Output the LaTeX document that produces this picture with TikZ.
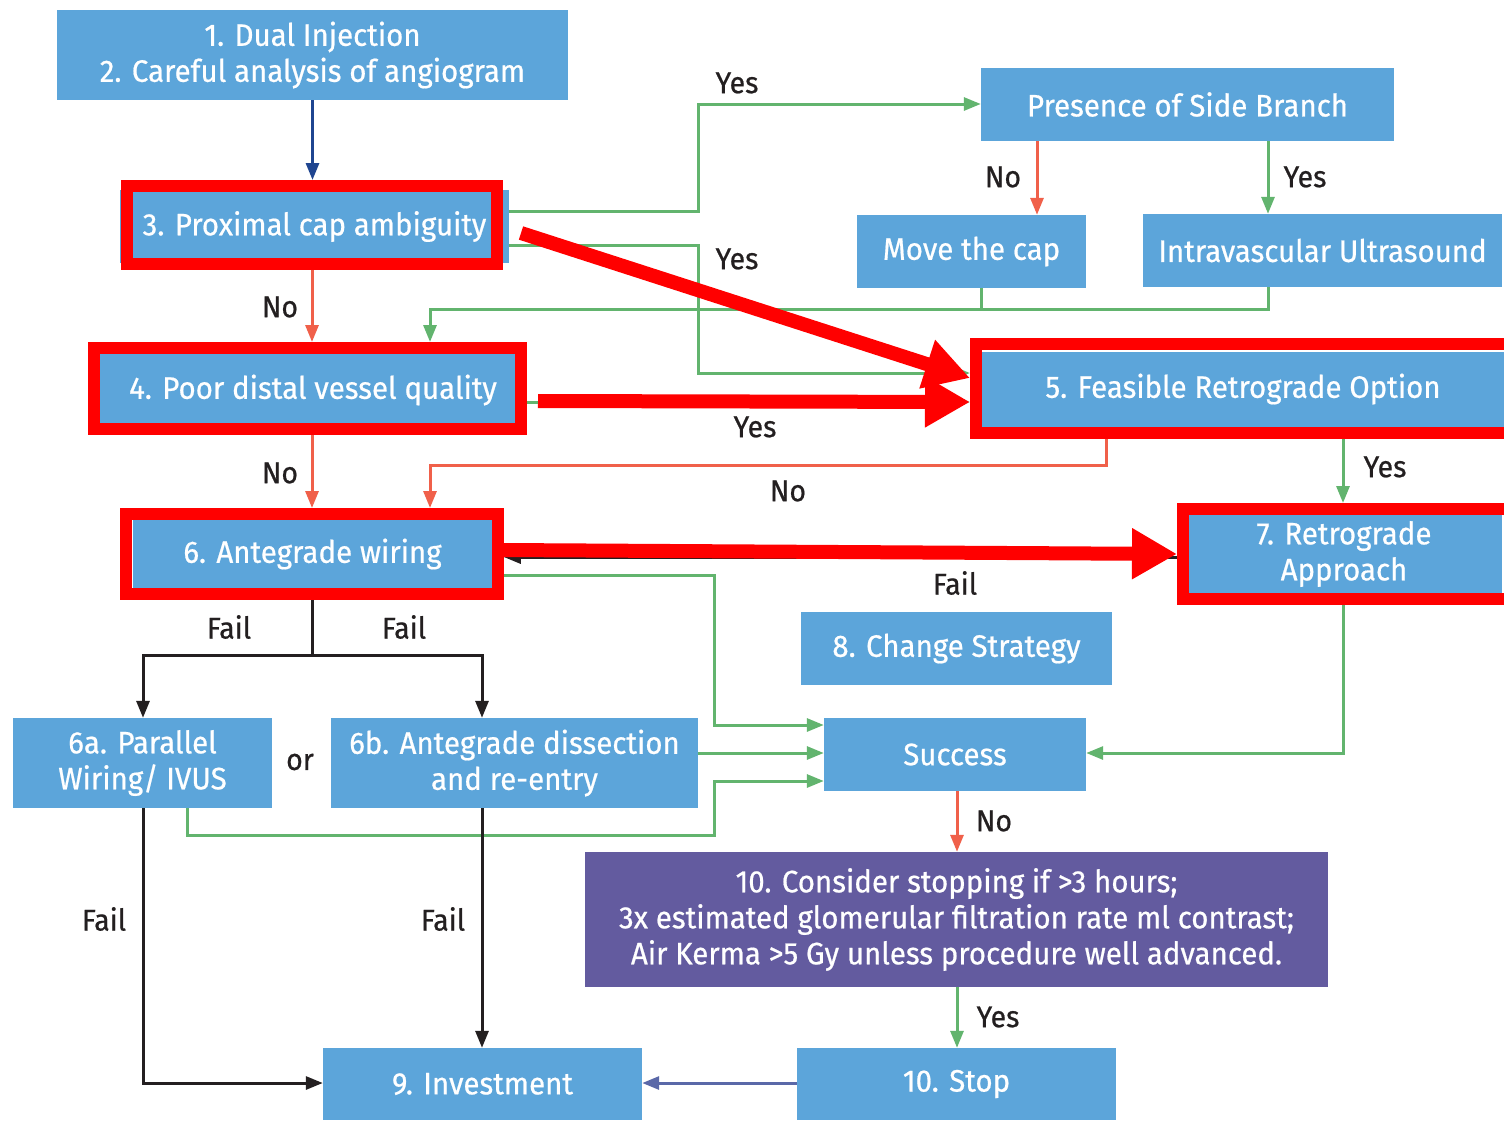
\documentclass[tikz,border=0pt]{standalone}
\usepackage{fontspec}
\setmainfont{Fira Sans}[FakeStretch=0.95,FakeBold=0.6]
\usetikzlibrary{arrows.meta,calc}
\definecolor{boxblue}{HTML}{5CA5DA}
\definecolor{grn}{HTML}{62B46E}
\definecolor{org}{HTML}{F0604A}
\definecolor{dkblue}{HTML}{1F4590}
\definecolor{purp}{HTML}{635B9F}
\definecolor{slate}{HTML}{5A68A8}
\definecolor{labelc}{HTML}{231F20}
\definecolor{hired}{HTML}{FF0000}
\begin{document}
\begin{tikzpicture}[x=1pt,y=-1pt,
  box/.style={fill=boxblue,text=white,inner sep=0pt,align=center,font=\fontsize{31}{36}\selectfont},
  lbl/.style={text=labelc,inner sep=0pt,font=\fontsize{30}{36}\selectfont},
  redframe/.style={draw=hired,line width=12pt,inner sep=0pt},
  con/.style={line width=3pt,-{Triangle[length=17pt,width=13pt]}},
  plain/.style={line width=3pt},
  gline/.style={con,draw=grn,color=grn},
  oline/.style={con,draw=org,color=org},
  bline/.style={con,draw=labelc,color=labelc},
  bigarrow/.style={draw=hired,color=hired,line width=14pt,-{Triangle[length=45pt,width=48pt]}}
]
\useasboundingbox (0,0) rectangle (1504,1120);
\fill[white] (0,0) rectangle (1504,1120);

% boxes
\node[box,minimum width=511pt,minimum height=90pt] (b1) at (312.5,55) {1. Dual Injection\\2. Careful analysis of angiogram};
\node[box,minimum width=389pt,minimum height=73pt] (b3) at (314.5,226.5) {3. Proximal cap ambiguity};
\node[box,minimum width=428pt,minimum height=76pt] (b4) at (313,390) {4. Poor distal vessel quality};
\node[box,minimum width=522pt,minimum height=75pt] (b5) at (1243,389) {5. Feasible Retrograde Option};
\node[box,minimum width=359pt,minimum height=69pt] (b6) at (312.5,554) {6. Antegrade wiring};
\node[box,minimum width=315pt,minimum height=78pt] (b7) at (1344,554) {7. Retrograde\\Approach};
\node[box,minimum width=413pt,minimum height=73pt] (side) at (1187.5,104.5) {Presence of Side Branch};
\node[box,minimum width=229pt,minimum height=73pt] (move) at (971.5,251.5) {Move the cap};
\node[box,minimum width=359pt,minimum height=73pt] (ivus) at (1322.5,250.5) {Intravascular Ultrasound};
\node[box,minimum width=311pt,minimum height=73pt] (b8) at (956.5,648.5) {8. Change Strategy};
\node[box,minimum width=259pt,minimum height=90pt] (b6a) at (142.5,763) {6a. Parallel\\Wiring/ IVUS};
\node[box,minimum width=367pt,minimum height=90pt] (b6b) at (514.5,763) {6b. Antegrade dissection\\and re-entry};
\node[box,minimum width=262pt,minimum height=73pt] (succ) at (955,754.5) {Success};
\node[box,fill=purp,minimum width=743pt,minimum height=135pt] (b10) at (956.5,919.5) {10. Consider stopping if >3 hours;\\3x estimated glomerular filtration rate ml contrast;\\Air Kerma >5 Gy unless procedure well advanced.};
\node[box,minimum width=319pt,minimum height=72pt] (stop) at (956.5,1084) {10. Stop};
\node[box,minimum width=319pt,minimum height=72pt] (inv) at (482.5,1084) {9. Investment};

% red highlight frames
\node[redframe,minimum width=370pt,minimum height=78pt] (f3) at (312,225) {};
\node[redframe,minimum width=427pt,minimum height=81pt] (f4) at (307.5,388.5) {};
\node[redframe,minimum width=544pt,minimum height=89pt] (f5) at (1248,388.5) {};
\node[redframe,minimum width=371.5pt,minimum height=80pt] (f6) at (312,554) {};
\node[redframe,minimum width=337pt,minimum height=90pt] (f7) at (1351.5,554) {};

% connectors
\draw[con,draw=dkblue,color=dkblue] (b1.south) -- (b1.south |- f3.north);
\draw[gline] (b3.east |- 0,211) -- (698,211) -- (698,104) -- (side.west |- 0,104);
\draw[gline] (b3.east |- 0,245) -- (698,245) -- (698,373) -- (f5.west |- 0,373);
\draw[oline] (f3.south) -- (f3.south |- f4.north);
\draw[oline] (side.south -| 1037,0) -- (move.north -| 1037,0);
\draw[gline] (side.south -| 1268,0) -- (ivus.north -| 1268,0);
\draw[plain,draw=grn] (move.south -| 981,0) -- (981,309);
\draw[gline] (ivus.south -| 1268,0) -- (1268,309) -- (430,309) -- (f4.north -| 430,0);
\draw[gline] (b4.east |- 0,402) -- (f5.west |- 0,402);
\draw[oline] (f6.north |- f4.south) -- (f6.north);
\draw[oline] (f5.south -| 1106,0) -- (1106,465) -- (430,465) -- (f6.north -| 430,0);
\draw[gline] (f5.south -| 1343,0) -- (f7.north -| 1343,0);
\draw[bline] (f7.west |- 0,557) -- (f6.east |- 0,557);
\draw[gline] (f6.east |- 0,575) -- (714,575) -- (714,725) -- (succ.west |- 0,725);
\draw[plain,draw=labelc] (f6.south) -- (312,655);
\draw[bline] (312,655) -- (143,655) -- (b6a.north -| 143,0);
\draw[bline] (312,655) -- (482,655) -- (b6b.north -| 482,0);
\draw[gline] (b6b.east |- 0,753) -- (succ.west |- 0,753);
\draw[gline] (b6a.south -| 187,0) -- (187,835) -- (714,835) -- (714,781) -- (succ.west |- 0,781);
\draw[gline] (f7.south -| 1343,0) -- (1343,753) -- (succ.east |- 0,753);
\draw[oline] (succ.south -| 957,0) -- (b10.north -| 957,0);
\draw[gline] (b10.south -| 957,0) -- (stop.north -| 957,0);
\draw[con,draw=slate,color=slate] (stop.west |- 0,1083) -- (inv.east |- 0,1083);
\draw[bline] (b6a.south -| 143,0) -- (143,1083) -- (inv.west |- 0,1083);
\draw[bline] (b6b.south -| 482,0) -- (inv.north -| 482,0);

% labels
\node[lbl] (l1) at (737,83) {Yes};
\node[lbl] (l2) at (737,259) {Yes};
\node[lbl] (l3) at (280,307) {No};
\node[lbl] (l4) at (1003,177) {No};
\node[lbl] (l5) at (1305,177) {Yes};
\node[lbl] (l6) at (755,427) {Yes};
\node[lbl] (l7) at (280,473) {No};
\node[lbl] (l8) at (788,491) {No};
\node[lbl] (l9) at (1385,467) {Yes};
\node[lbl] (l10) at (955,583) {Fail};
\node[lbl] (l11) at (229,627) {Fail};
\node[lbl] (l12) at (404,627) {Fail};
\node[lbl] (l13) at (300,762) {or};
\node[lbl] (l14) at (994,821) {No};
\node[lbl] (l15) at (104,919) {Fail};
\node[lbl] (l16) at (443,919) {Fail};
\node[lbl] (l17) at (998,1017) {Yes};

% big red emphasis arrows
\coordinate (r1s) at (521,233);
\coordinate (r2s) at (538,401);
\draw[bigarrow] (r1s) -- (f5.west |- 0,378);
\draw[bigarrow] (r2s) -- (f5.west |- 0,402);
\draw[bigarrow] (f6.east |- 0,550) -- (f7.west |- 0,554);
\end{tikzpicture}
\end{document}
